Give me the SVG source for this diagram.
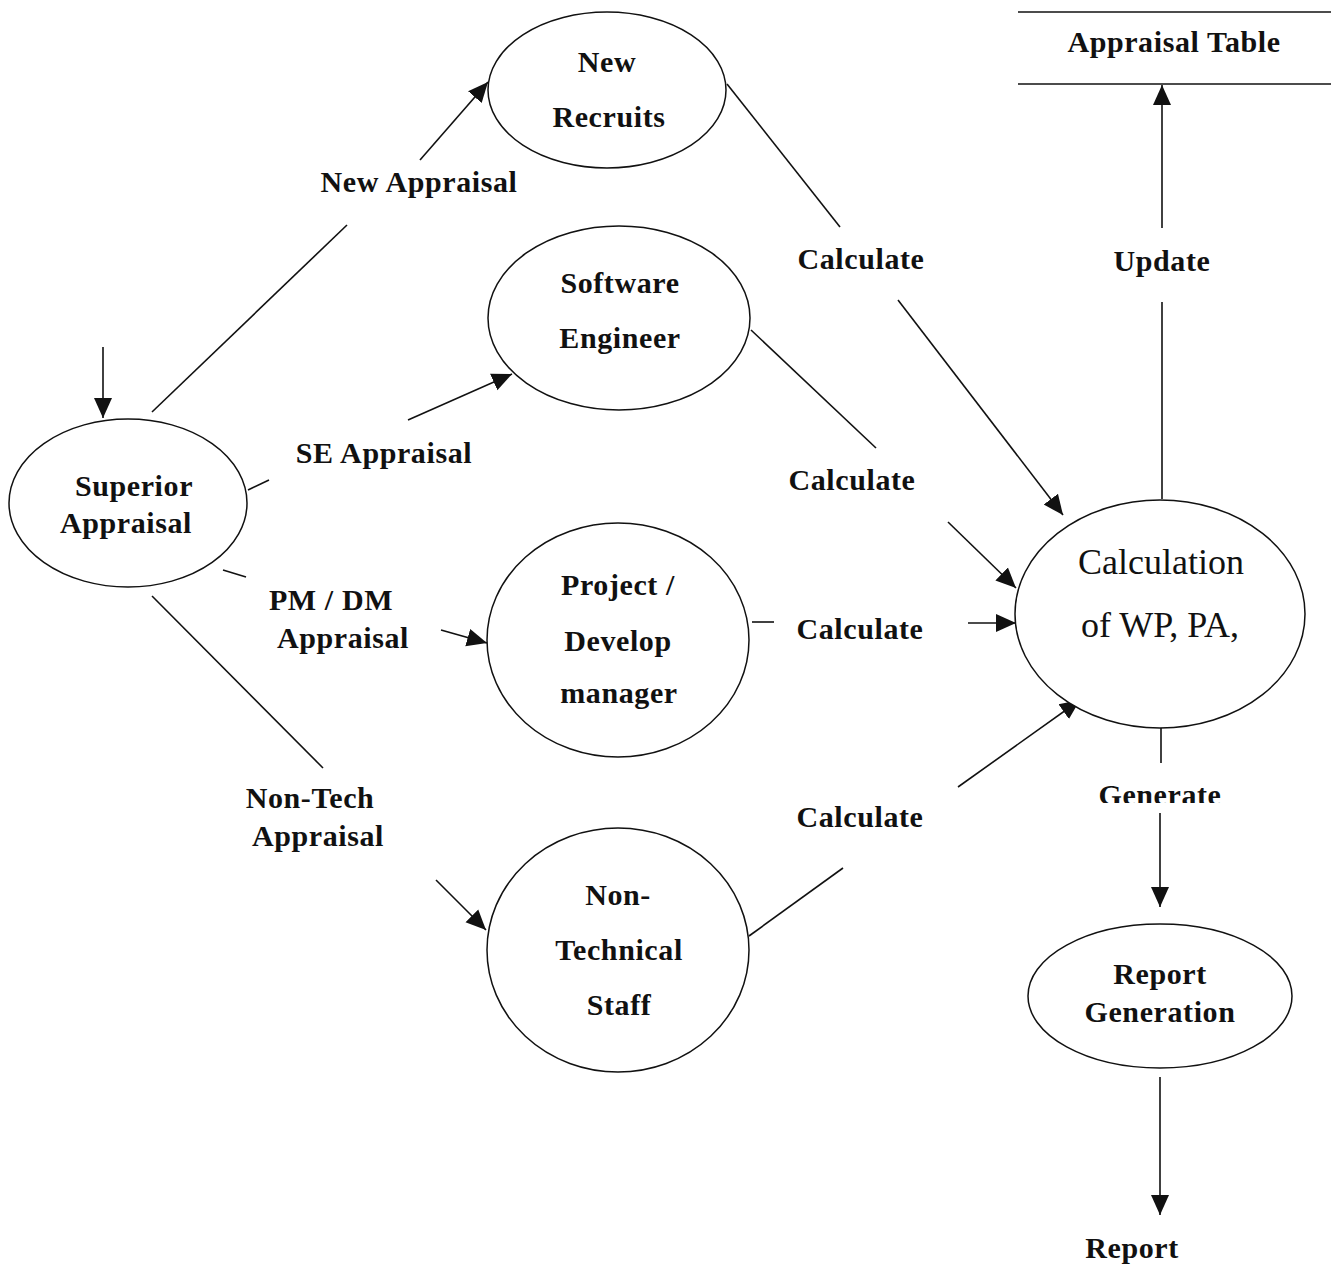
<svg xmlns="http://www.w3.org/2000/svg" width="1331" height="1264" viewBox="0 0 1331 1264">
  <style>
    .node { fill: #fff; stroke: #111; stroke-width: 1.5; }
    .lbl { font-family: "Liberation Serif", "Times New Roman", serif; font-weight: bold; font-size: 30px; letter-spacing: 0.6px; fill: #111; text-anchor: middle; }
    .big { font-family: "Liberation Serif", "Times New Roman", serif; font-size: 36px; fill: #111; text-anchor: middle; }
    .edge { stroke: #111; stroke-width: 1.6; fill: none; }
    .arr { marker-end: url(#head); }
  </style>
  <defs>
    <marker id="head" viewBox="0 0 20 20" refX="20" refY="10" markerWidth="20" markerHeight="20" markerUnits="userSpaceOnUse" orient="auto">
      <path d="M0,1 L20,10 L0,19 Z" fill="#111"/>
    </marker>
    <clipPath id="genClip">
      <rect x="1080" y="770" width="160" height="33"/>
    </clipPath>
  </defs>
  <rect width="1331" height="1264" fill="#fff"/>

  <!-- connectors -->
  <g id="connectors">
    <line class="edge arr" x1="103" y1="347" x2="103" y2="418"/>
    <!-- New Appraisal -->
    <line class="edge" x1="152" y1="412" x2="347" y2="225"/>
    <line class="edge arr" x1="420" y1="160" x2="488" y2="82"/>
    <!-- SE Appraisal -->
    <line class="edge" x1="248" y1="490" x2="269" y2="480"/>
    <line class="edge arr" x1="408" y1="420" x2="512" y2="374"/>
    <!-- PM / DM Appraisal -->
    <line class="edge" x1="223" y1="570" x2="246" y2="577"/>
    <line class="edge arr" x1="441" y1="630" x2="487" y2="643"/>
    <!-- Non-Tech Appraisal -->
    <line class="edge" x1="152" y1="596" x2="323" y2="768"/>
    <line class="edge arr" x1="436" y1="880" x2="486" y2="930"/>
    <!-- Calculate flows -->
    <line class="edge" x1="727" y1="84" x2="840" y2="227"/>
    <line class="edge arr" x1="898" y1="300" x2="1063" y2="515"/>
    <line class="edge" x1="751" y1="330" x2="876" y2="448"/>
    <line class="edge arr" x1="948" y1="522" x2="1016" y2="588"/>
    <line class="edge" x1="752" y1="622" x2="774" y2="622"/>
    <line class="edge arr" x1="968" y1="623" x2="1016" y2="623"/>
    <line class="edge" x1="749" y1="936" x2="843" y2="868"/>
    <line class="edge arr" x1="958" y1="787" x2="1080" y2="700"/>
    <!-- Update -->
    <line class="edge" x1="1162" y1="499" x2="1162" y2="302"/>
    <line class="edge arr" x1="1162" y1="228" x2="1162" y2="85"/>
    <!-- Generate -->
    <line class="edge" x1="1161" y1="723" x2="1161" y2="763"/>
    <line class="edge arr" x1="1160" y1="813" x2="1160" y2="907"/>
    <!-- Report -->
    <line class="edge arr" x1="1160" y1="1077" x2="1160" y2="1215"/>

    <text class="lbl" x="419" y="192">New Appraisal</text>
    <text class="lbl" x="384" y="463">SE Appraisal</text>
    <text class="lbl" x="331" y="610">PM / DM</text>
    <text class="lbl" x="343" y="648">Appraisal</text>
    <text class="lbl" x="310" y="808">Non-Tech</text>
    <text class="lbl" x="318" y="846">Appraisal</text>
    <text class="lbl" x="861" y="269">Calculate</text>
    <text class="lbl" x="852" y="490">Calculate</text>
    <text class="lbl" x="860" y="639">Calculate</text>
    <text class="lbl" x="860" y="827">Calculate</text>
    <text class="lbl" x="1162" y="271">Update</text>
    <text class="lbl" x="1160" y="805" clip-path="url(#genClip)">Generate</text>
    <text class="lbl" x="1132" y="1258">Report</text>
  </g>

  <g id="superior-appraisal">
    <ellipse class="node" cx="128" cy="503" rx="119" ry="84"/>
    <text class="lbl" x="134" y="496">Superior</text>
    <text class="lbl" x="126" y="533">Appraisal</text>
  </g>

  <g id="new-recruits">
    <ellipse class="node" cx="607" cy="90" rx="119" ry="78"/>
    <text class="lbl" x="607" y="72">New</text>
    <text class="lbl" x="609" y="127">Recruits</text>
  </g>

  <g id="software-engineer">
    <ellipse class="node" cx="619" cy="318" rx="131" ry="92"/>
    <text class="lbl" x="620" y="293">Software</text>
    <text class="lbl" x="620" y="348">Engineer</text>
  </g>

  <g id="project-manager">
    <ellipse class="node" cx="618" cy="640" rx="131" ry="117"/>
    <text class="lbl" x="618" y="595">Project /</text>
    <text class="lbl" x="618" y="651">Develop</text>
    <text class="lbl" x="619" y="703">manager</text>
  </g>

  <g id="non-technical-staff">
    <ellipse class="node" cx="618" cy="950" rx="131" ry="122"/>
    <text class="lbl" x="618" y="905">Non-</text>
    <text class="lbl" x="619" y="960">Technical</text>
    <text class="lbl" x="619" y="1015">Staff</text>
  </g>

  <g id="calculation">
    <ellipse class="node" cx="1160" cy="614" rx="145" ry="114"/>
    <text class="big" x="1161" y="574">Calculation</text>
    <text class="big" x="1160" y="637">of WP, PA,</text>
  </g>

  <g id="report-generation">
    <ellipse class="node" cx="1160" cy="996" rx="132" ry="72"/>
    <text class="lbl" x="1160" y="984">Report</text>
    <text class="lbl" x="1160" y="1022">Generation</text>
  </g>

  <g id="appraisal-table">
    <line class="edge" x1="1018" y1="12" x2="1331" y2="12"/>
    <line class="edge" x1="1018" y1="84" x2="1331" y2="84"/>
    <text class="lbl" x="1174" y="52">Appraisal Table</text>
  </g>
</svg>
